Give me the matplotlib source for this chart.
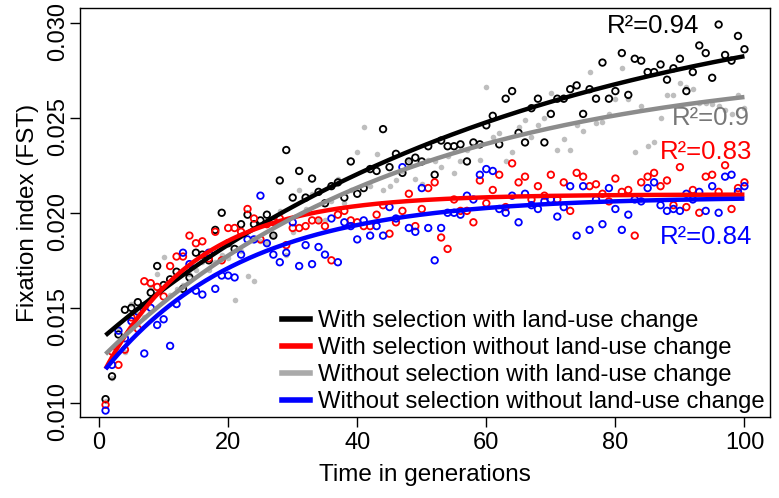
import numpy as np
import matplotlib.pyplot as plt
import matplotlib.transforms as mtransforms
from matplotlib.lines import Line2D

plt.rcParams['font.family'] = ['Liberation Sans', 'DejaVu Sans']

generations = np.arange(1, 101)

# with selection, with land-use change (black)
fst_sel_luc = [
    0.0102, 0.0114, 0.0136, 0.0149, 0.0150, 0.0153, 0.0151, 0.0158, 0.0172, 0.0162,
    0.0165, 0.0169, 0.0160, 0.0166, 0.0179, 0.0178, 0.0175, 0.0191, 0.0200, 0.0184,
    0.0181, 0.0194, 0.0199, 0.0194, 0.0196, 0.0199, 0.0188, 0.0217, 0.0233, 0.0208,
    0.0222, 0.0208, 0.0218, 0.0211, 0.0205, 0.0214, 0.0216, 0.0208, 0.0227, 0.0210,
    0.0213, 0.0223, 0.0222, 0.0244, 0.0224, 0.0231, 0.0221, 0.0227, 0.0229, 0.0227,
    0.0235, 0.0220, 0.0238, 0.0235, 0.0235, 0.0236, 0.0227, 0.0237, 0.0236, 0.0246,
    0.0251, 0.0236, 0.0260, 0.0264, 0.0242, 0.0237, 0.0255, 0.0260, 0.0237, 0.0252,
    0.0260, 0.0260, 0.0265, 0.0267, 0.0252, 0.0265, 0.0260, 0.0279, 0.0260, 0.0264,
    0.0284, 0.0262, 0.0281, 0.0280, 0.0274, 0.0274, 0.0278, 0.0270, 0.0276, 0.0281,
    0.0264, 0.0274, 0.0288, 0.0284, 0.0271, 0.0299, 0.0283, 0.0280, 0.0293, 0.0286]

# with selection, without land-use change (red)
fst_sel_noluc = [
    0.0099, 0.0127, 0.0120, 0.0128, 0.0145, 0.0139, 0.0164, 0.0163, 0.0161, 0.0156,
    0.0172, 0.0177, 0.0177, 0.0188, 0.0184, 0.0185, 0.0176, 0.0190, 0.0175, 0.0192,
    0.0192, 0.0190, 0.0202, 0.0197, 0.0186, 0.0194, 0.0195, 0.0197, 0.0183, 0.0192,
    0.0192, 0.0193, 0.0196, 0.0196, 0.0193, 0.0175, 0.0199, 0.0201, 0.0196, 0.0195,
    0.0193, 0.0193, 0.0199, 0.0204, 0.0189, 0.0195, 0.0201, 0.0210, 0.0193, 0.0202,
    0.0213, 0.0216, 0.0187, 0.0181, 0.0207, 0.0201, 0.0201, 0.0195, 0.0217, 0.0205,
    0.0212, 0.0220, 0.0203, 0.0226, 0.0216, 0.0219, 0.0207, 0.0214, 0.0209, 0.0220,
    0.0207, 0.0216, 0.0201, 0.0221, 0.0219, 0.0214, 0.0215, 0.0210, 0.0206, 0.0218,
    0.0211, 0.0212, 0.0188, 0.0216, 0.0219, 0.0221, 0.0214, 0.0217, 0.0204, 0.0224,
    0.0203, 0.0212, 0.0200, 0.0219, 0.0220, 0.0211, 0.0225, 0.0202, 0.0213, 0.0216]

# without selection, with land-use change (grey)
fst_nosel_luc = [
    0.0101, 0.0113, 0.0140, 0.0127, 0.0152, 0.0147, 0.0145, 0.0161, 0.0168, 0.0177,
    0.0157, 0.0160, 0.0162, 0.0168, 0.0170, 0.0174, 0.0170, 0.0174, 0.0178, 0.0176,
    0.0154, 0.0180, 0.0167, 0.0164, 0.0185, 0.0184, 0.0188, 0.0201, 0.0178, 0.0190,
    0.0212, 0.0202, 0.0210, 0.0196, 0.0196, 0.0206, 0.0218, 0.0205, 0.0212, 0.0232,
    0.0245, 0.0214, 0.0231, 0.0212, 0.0214, 0.0217, 0.0222, 0.0228, 0.0218, 0.0215,
    0.0228, 0.0227, 0.0224, 0.0230, 0.0221, 0.0227, 0.0233, 0.0235, 0.0228, 0.0266,
    0.0240, 0.0242, 0.0227, 0.0232, 0.0245, 0.0249, 0.0240, 0.0246, 0.0250, 0.0263,
    0.0233, 0.0239, 0.0233, 0.0246, 0.0243, 0.0274, 0.0247, 0.0248, 0.0252, 0.0260,
    0.0276, 0.0260, 0.0232, 0.0256, 0.0235, 0.0237, 0.0250, 0.0262, 0.0262, 0.0268,
    0.0266, 0.0265, 0.0258, 0.0258, 0.0257, 0.0256, 0.0254, 0.0252, 0.0262, 0.0255]

# without selection, without land-use change (blue)
fst_nosel_noluc = [
    0.0096, 0.0120, 0.0138, 0.0134, 0.0143, 0.0148, 0.0126, 0.0150, 0.0141, 0.0144,
    0.0130, 0.0152, 0.0179, 0.0173, 0.0159, 0.0157, 0.0179, 0.0160, 0.0167, 0.0167,
    0.0166, 0.0178, 0.0186, 0.0186, 0.0209, 0.0184, 0.0178, 0.0174, 0.0179, 0.0195,
    0.0172, 0.0183, 0.0173, 0.0182, 0.0178, 0.0197, 0.0174, 0.0195, 0.0193, 0.0186,
    0.0196, 0.0188, 0.0193, 0.0188, 0.0203, 0.0197, 0.0224, 0.0192, 0.0190, 0.0213,
    0.0192, 0.0175, 0.0192, 0.0200, 0.0200, 0.0199, 0.0209, 0.0207, 0.0220, 0.0223,
    0.0222, 0.0202, 0.0200, 0.0209, 0.0195, 0.0210, 0.0204, 0.0202, 0.0206, 0.0207,
    0.0198, 0.0203, 0.0214, 0.0188, 0.0214, 0.0191, 0.0207, 0.0194, 0.0213, 0.0202,
    0.0191, 0.0199, 0.0207, 0.0206, 0.0213, 0.0216, 0.0204, 0.0201, 0.0202, 0.0201,
    0.0210, 0.0207, 0.0211, 0.0201, 0.0214, 0.0200, 0.0219, 0.0220, 0.0211, 0.0214]

labels = ['With selection with land-use change',
          'With selection without land-use change',
          'Without selection with land-use change',
          'Without selection without land-use change']
r2_labels = ['R\u00b2=0.94', 'R\u00b2=0.83', 'R\u00b2=0.9', 'R\u00b2=0.84']


def fit_asymptotic(t, y):
    # y = a - b*exp(-c*t), grid search on c, least squares for a and b
    y = np.asarray(y)
    best = None
    for c in np.linspace(0.002, 0.3, 3000):
        X = np.column_stack([np.ones_like(t, dtype=float), -np.exp(-c * t)])
        coef, *_ = np.linalg.lstsq(X, y, rcond=None)
        sse = np.sum((X @ coef - y) ** 2)
        if best is None or sse < best[0]:
            best = (sse, coef[0], coef[1], c)
    return best[1:]


fig = plt.figure(figsize=(7.79, 4.98), dpi=100)
ax = fig.add_axes([80 / 779, 1 - 417 / 498, 690 / 779, 409 / 498])

ax.scatter(generations, fst_nosel_luc, s=16, color='#BEBEBE', linewidths=0, zorder=2)
ax.scatter(generations, fst_sel_luc, s=22, facecolors='none', edgecolors='black',
           linewidths=1.3, zorder=3)
ax.scatter(generations, fst_sel_noluc, s=22, facecolors='none', edgecolors='#FF0000',
           linewidths=1.3, zorder=3)
ax.scatter(generations, fst_nosel_noluc, s=22, facecolors='none', edgecolors='#0000FF',
           linewidths=1.3, zorder=3)

t_fine = np.linspace(1, 100, 300)
series = [(fst_sel_luc, 'black'), (fst_sel_noluc, '#FF0000'),
          (fst_nosel_luc, '#8C8C8C'), (fst_nosel_noluc, '#0000FF')]
for vals, col in series:
    a, b, c = fit_asymptotic(generations, vals)
    ax.plot(t_fine, a - b * np.exp(-c * t_fine), color=col, lw=3.2, zorder=4,
            solid_capstyle='butt')

# R squared annotations
ax.text(93, 0.0298, r2_labels[0], color='black', fontsize=18.5, ha='right', va='center')
ax.text(100.8, 0.0250, r2_labels[2], color='#777777', fontsize=18.5, ha='right', va='center')
ax.text(101.2, 0.0232, r2_labels[1], color='#FF0000', fontsize=18.5, ha='right', va='center')
ax.text(101.2, 0.01874, r2_labels[3], color='#0000FF', fontsize=18.5, ha='right', va='center')

handles = [Line2D([], [], color='black', lw=4),
           Line2D([], [], color='#FF0000', lw=4),
           Line2D([], [], color='#AAAAAA', lw=4),
           Line2D([], [], color='#0000FF', lw=4)]
ax.legend(handles, labels, loc='lower right', bbox_to_anchor=(0.997, 0.0),
          frameon=False, fontsize=17.2, handlelength=1.15, handletextpad=0.33,
          labelspacing=0.21, borderaxespad=0.0, borderpad=0.15)

ax.set_xlim(-2.96, 103.96)
ax.set_ylim(0.00926, 0.03077)
ax.set_xticks([0, 20, 40, 60, 80, 100])
ax.set_yticks([0.010, 0.015, 0.020, 0.025, 0.030])
ax.set_yticklabels(['0.010', '0.015', '0.020', '0.025', '0.030'], rotation=90, va='center')
ax.tick_params(axis='both', labelsize=17, length=7, width=1, direction='out')
ax.tick_params(axis='y', pad=1)
ax.tick_params(axis='x', pad=4)
shift = mtransforms.ScaledTranslation(0, -9 / 100, fig.dpi_scale_trans)
for lab in ax.get_yticklabels():
    lab.set_transform(lab.get_transform() + shift)
for sp in ax.spines.values():
    sp.set_linewidth(1)

ax.set_xlabel('Time in generations', fontsize=17.5, labelpad=7)
ax.set_ylabel('Fixation index (FST)', fontsize=17.5, labelpad=6)

fig.savefig('out.png', dpi=100)
